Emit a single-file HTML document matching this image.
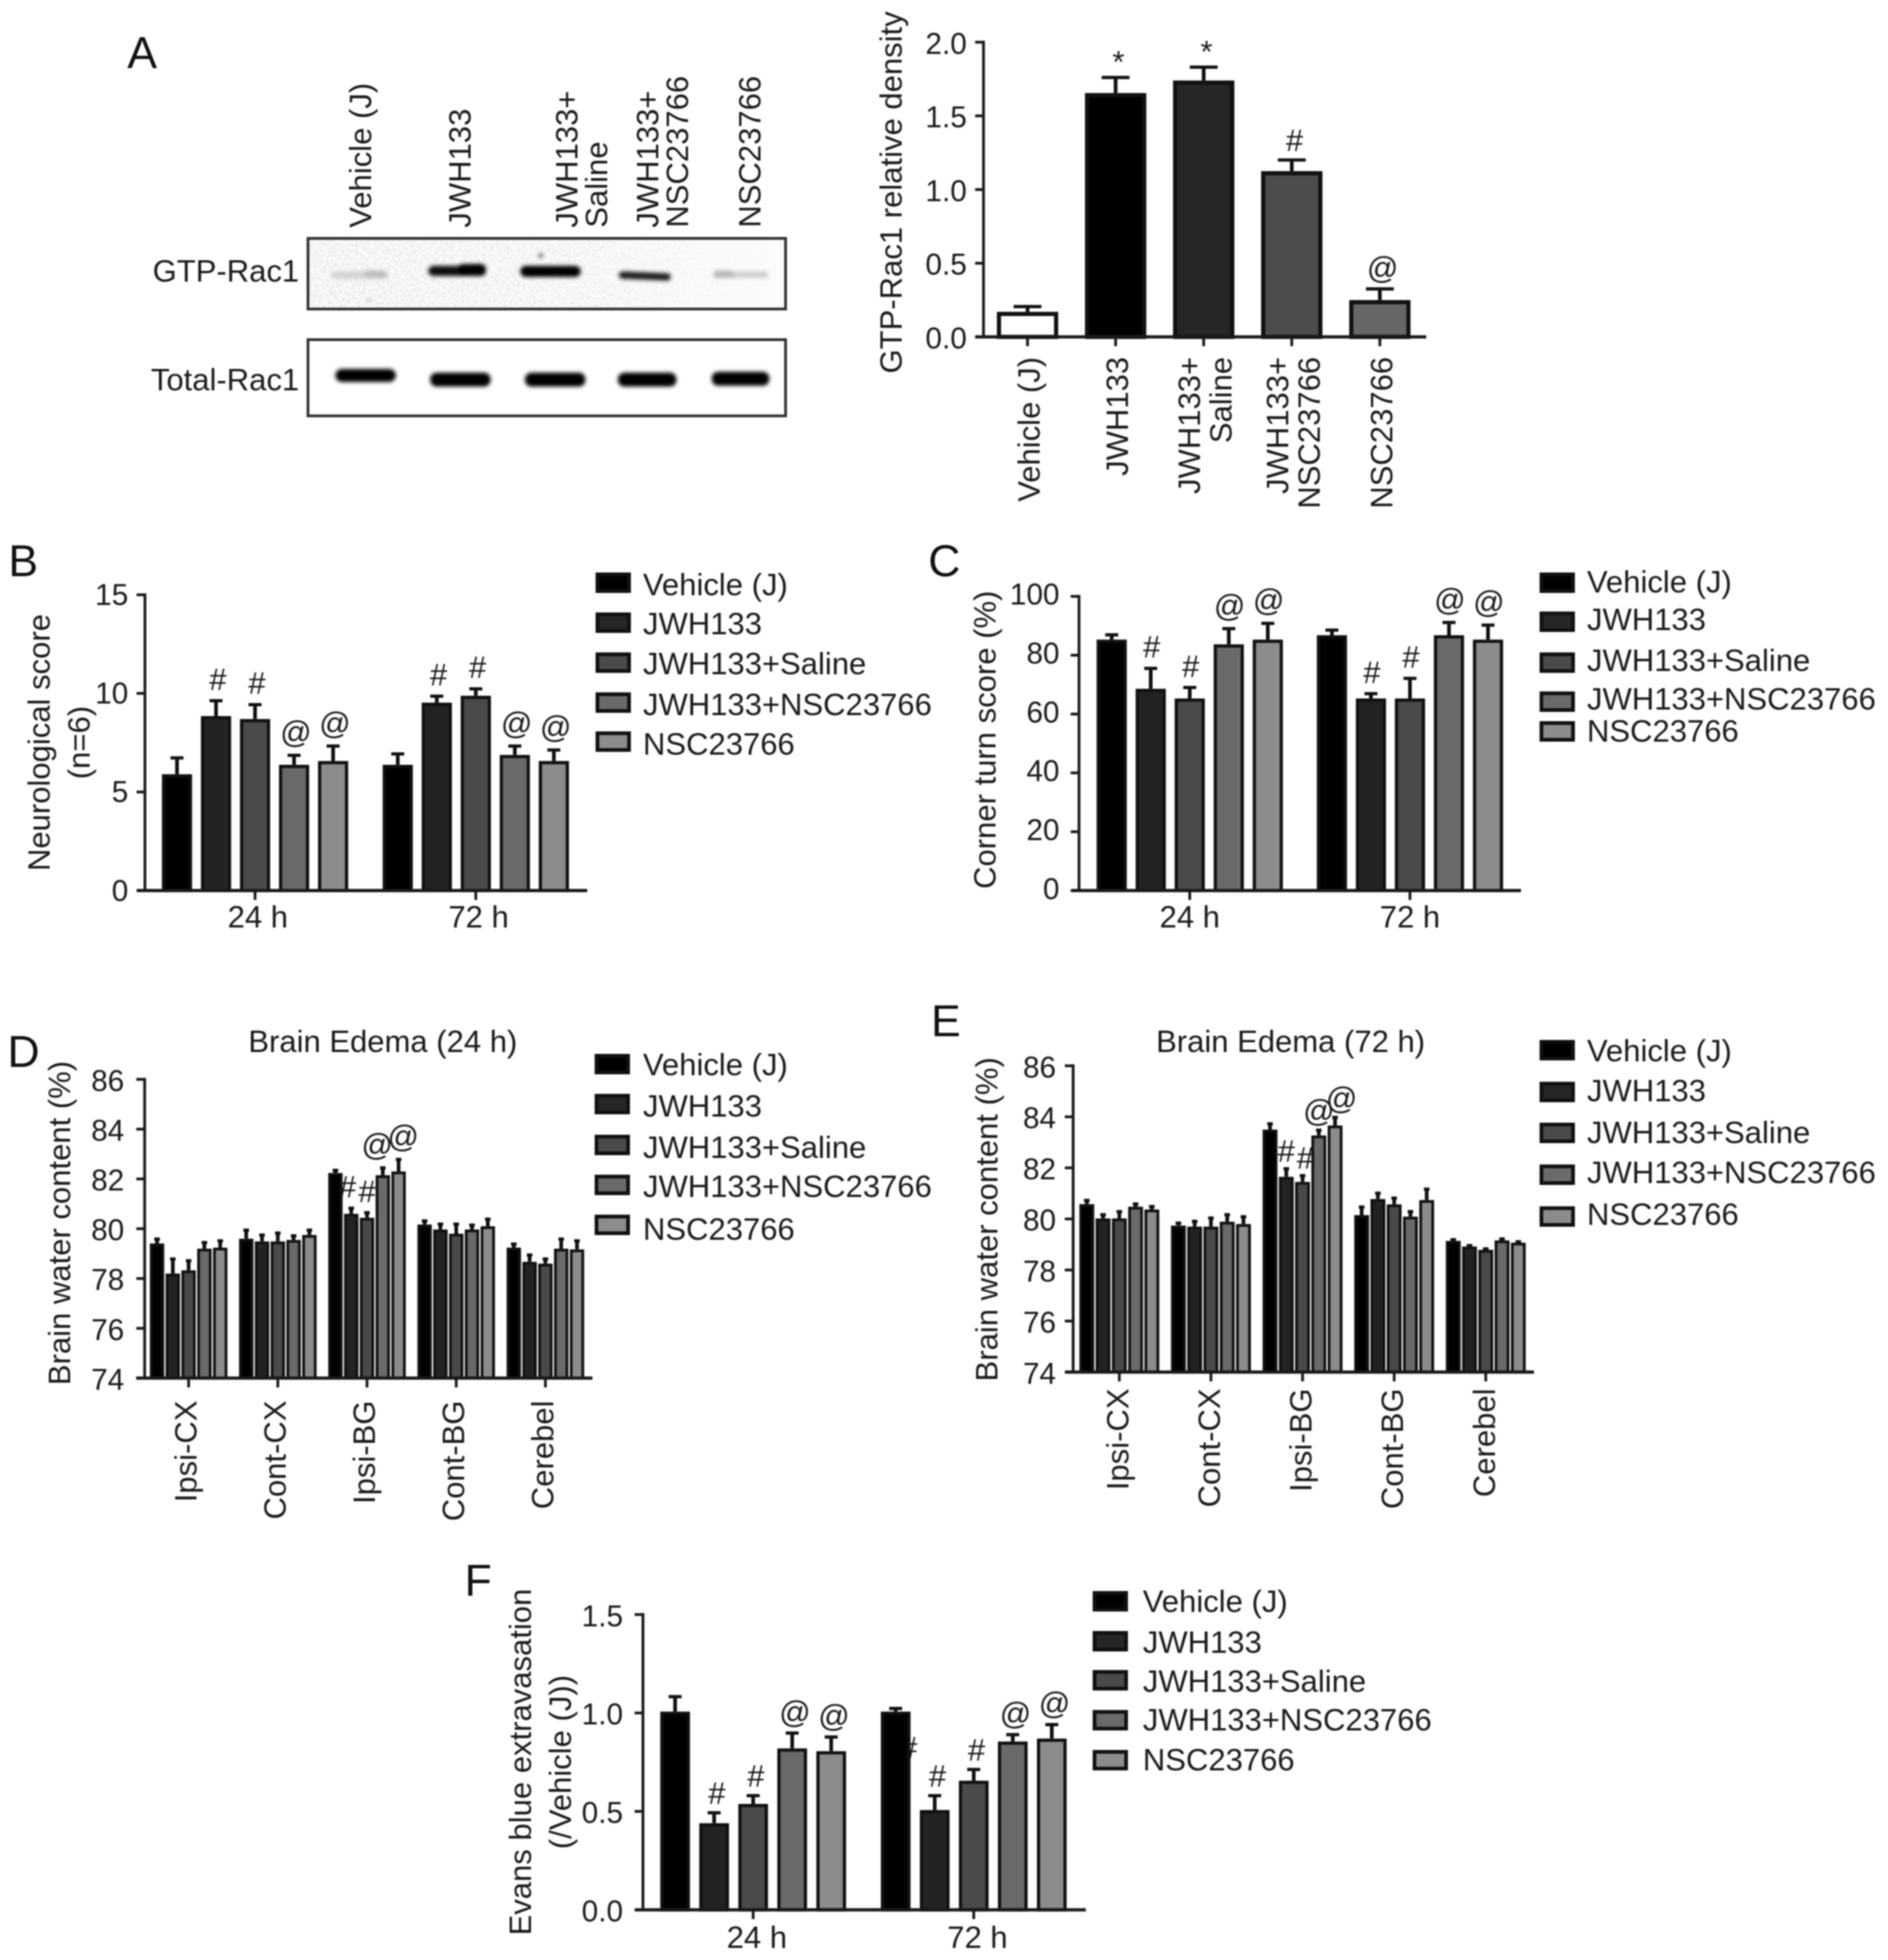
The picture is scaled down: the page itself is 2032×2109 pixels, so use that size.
<!DOCTYPE html>
<html lang="en">
<head>
<meta charset="utf-8">
<title>GTP-Rac1 and neurological outcome figure</title>
<style>
html,body{margin:0;padding:0;background:#fff}
#figure{display:block;filter:blur(.85px)}
text{font-family:"Liberation Sans",sans-serif;font-size:33.4px;fill:#1a1a1a}
.letter{font-size:48px;fill:#111}
.sw{stroke:#111;stroke-width:4}
</style>
</head>
<body>
<svg id="figure" xmlns="http://www.w3.org/2000/svg" width="2032" height="2109" viewBox="0 0 2032 2109">
<defs>
<filter id="bandBlur" x="-20%" y="-80%" width="140%" height="260%"><feGaussianBlur stdDeviation="2.1"/></filter>
<filter id="blotNoise" x="0" y="0" width="100%" height="100%"><feTurbulence type="fractalNoise" baseFrequency="0.35" numOctaves="2" seed="7"/><feColorMatrix type="matrix" values="0 0 0 0 0.5  0 0 0 0 0.5  0 0 0 0 0.5  0.9 0 0 0 -0.36"/></filter>
<linearGradient id="noiseFade" x1="0" y1="0" x2="1" y2="0"><stop offset="0" stop-color="#fff"/><stop offset="0.55" stop-color="#bbb"/><stop offset="1" stop-color="#000"/></linearGradient>
<mask id="noiseMask" maskUnits="userSpaceOnUse" x="333" y="258" width="511" height="73"><rect x="333" y="258" width="511" height="73" fill="url(#noiseFade)"/></mask>
</defs>
<rect width="2032" height="2109" fill="#fff"/>

<text class="letter" x="137" y="73">A</text>
<text class="letter" x="9" y="620">B</text>
<text class="letter" x="999" y="620">C</text>
<text class="letter" x="8" y="1148">D</text>
<text class="letter" x="1002" y="1115">E</text>
<text class="letter" x="500" y="1717">F</text>

<g>
<g transform="translate(388,245) rotate(-90)"><text dy=".35em">Vehicle (J)</text></g>
<g transform="translate(495,245) rotate(-90)"><text dy=".35em">JWH133</text></g>
<g transform="translate(610,245) rotate(-90)"><text dy=".35em">JWH133+</text></g>
<g transform="translate(642,245) rotate(-90)"><text dy=".35em">Saline</text></g>
<g transform="translate(697,245) rotate(-90)"><text dy=".35em">JWH133+</text></g>
<g transform="translate(729,245) rotate(-90)"><text dy=".35em">NSC23766</text></g>
<g transform="translate(807,245) rotate(-90)"><text dy=".35em">NSC23766</text></g>
<text x="322" y="303" text-anchor="end">GTP-Rac1</text>
<text x="322" y="420" text-anchor="end">Total-Rac1</text>
<rect x="331.5" y="256.5" width="514" height="76" fill="#fbfbfb" stroke="#333" stroke-width="3"/>
<g mask="url(#noiseMask)"><rect x="333" y="258" width="511" height="73" filter="url(#blotNoise)"/></g>
<rect x="331.5" y="365.5" width="514" height="82" fill="#fff" stroke="#333" stroke-width="3"/>
<g filter="url(#bandBlur)">
<rect x="356" y="292" width="62" height="8" rx="4" fill="#d2d2d2"/>
<rect x="392" y="291" width="24" height="8" rx="4" fill="#bebebe"/>
<rect x="461" y="286" width="62" height="11" rx="5.5" fill="#0a0a0a"/>
<rect x="493" y="284" width="30" height="11" rx="5.5" fill="#000"/>
<rect x="560" y="286" width="65" height="12" rx="6" fill="#000"/>
<rect x="666" y="293" width="56" height="8" rx="4" fill="#1f1f1f" transform="rotate(2.4 694 297)"/>
<rect x="767" y="292" width="60" height="7" rx="3.5" fill="#cdcdcd"/>
<rect x="768" y="291" width="22" height="8" rx="4" fill="#b8b8b8"/>
<circle cx="582" cy="275" r="2.4" fill="#555"/>
<circle cx="398" cy="323" r="3" fill="#d4d4d4"/>
</g>
<g filter="url(#bandBlur)">
<rect x="361" y="397" width="65" height="14" rx="7" fill="#000"/>
<rect x="463" y="401" width="65" height="15" rx="7" fill="#000"/>
<rect x="565" y="401" width="65" height="15" rx="7" fill="#000"/>
<rect x="665" y="401" width="63" height="15" rx="7" fill="#000"/>
<rect x="766" y="400" width="62" height="15" rx="7" fill="#000"/>
</g>
</g>

<g transform="translate(959,207) rotate(-90)"><text text-anchor="middle" dy=".35em">GTP-Rac1 relative density</text></g>
<g transform="translate(42,799) rotate(-90)"><text text-anchor="middle" dy=".35em">Neurological score</text></g>
<g transform="translate(85,799) rotate(-90)"><text text-anchor="middle" dy=".35em">(n=6)</text></g>
<g transform="translate(1060,796) rotate(-90)"><text text-anchor="middle" dy=".35em">Corner turn score (%)</text></g>
<g transform="translate(64,1316) rotate(-90)"><text text-anchor="middle" dy=".35em">Brain water content (%)</text></g>
<g transform="translate(1062,1312) rotate(-90)"><text text-anchor="middle" dy=".35em">Brain water content (%)</text></g>
<g transform="translate(560,1896) rotate(-90)"><text text-anchor="middle" dy=".35em">Evans blue extravasation</text></g>
<g transform="translate(603,1896) rotate(-90)"><text text-anchor="middle" dy=".35em">(/Vehicle (J))</text></g>
<text x="412" y="1132" text-anchor="middle">Brain Edema (24 h)</text>
<text x="1389" y="1132" text-anchor="middle">Brain Edema (72 h)</text>

<g>
<rect class="sw" x="643" y="618" width="34" height="18" fill="#000"/><text x="692" y="640.5">Vehicle (J)</text>
<rect class="sw" x="643" y="661" width="34" height="18" fill="#262626"/><text x="692" y="682.5">JWH133</text>
<rect class="sw" x="643" y="704" width="34" height="18" fill="#4a4a4a"/><text x="692" y="725.5">JWH133+Saline</text>
<rect class="sw" x="643" y="747" width="34" height="18" fill="#6a6a6a"/><text x="692" y="769.5">JWH133+NSC23766</text>
<rect class="sw" x="643" y="789" width="34" height="18" fill="#8c8c8c"/><text x="692" y="812">NSC23766</text>
</g>
<g>
<rect class="sw" x="1659" y="618" width="34" height="18" fill="#000"/><text x="1708" y="637.5">Vehicle (J)</text>
<rect class="sw" x="1659" y="660" width="34" height="18" fill="#262626"/><text x="1708" y="678">JWH133</text>
<rect class="sw" x="1659" y="704" width="34" height="18" fill="#4a4a4a"/><text x="1708" y="722">JWH133+Saline</text>
<rect class="sw" x="1659" y="746" width="34" height="18" fill="#6a6a6a"/><text x="1708" y="763.5">JWH133+NSC23766</text>
<rect class="sw" x="1659" y="778" width="34" height="18" fill="#8c8c8c"/><text x="1708" y="798">NSC23766</text>
</g>
<g>
<rect class="sw" x="642" y="1136" width="34" height="18" fill="#000"/><text x="692" y="1157">Vehicle (J)</text>
<rect class="sw" x="642" y="1179" width="34" height="18" fill="#262626"/><text x="692" y="1201.7">JWH133</text>
<rect class="sw" x="642" y="1223" width="34" height="18" fill="#4a4a4a"/><text x="692" y="1246">JWH133+Saline</text>
<rect class="sw" x="642" y="1266" width="34" height="18" fill="#6a6a6a"/><text x="692" y="1288">JWH133+NSC23766</text>
<rect class="sw" x="642" y="1309" width="34" height="18" fill="#8c8c8c"/><text x="692" y="1334">NSC23766</text>
</g>
<g>
<rect class="sw" x="1659" y="1121" width="34" height="18" fill="#000"/><text x="1708" y="1142">Vehicle (J)</text>
<rect class="sw" x="1659" y="1166" width="34" height="18" fill="#262626"/><text x="1708" y="1185">JWH133</text>
<rect class="sw" x="1659" y="1210" width="34" height="18" fill="#4a4a4a"/><text x="1708" y="1230">JWH133+Saline</text>
<rect class="sw" x="1659" y="1255" width="34" height="18" fill="#6a6a6a"/><text x="1708" y="1273">JWH133+NSC23766</text>
<rect class="sw" x="1659" y="1300" width="34" height="18" fill="#8c8c8c"/><text x="1708" y="1318">NSC23766</text>
</g>
<g>
<rect class="sw" x="1178" y="1714" width="34" height="18" fill="#000"/><text x="1230" y="1734.5">Vehicle (J)</text>
<rect class="sw" x="1178" y="1757" width="34" height="18" fill="#262626"/><text x="1230" y="1778.5">JWH133</text>
<rect class="sw" x="1178" y="1799" width="34" height="18" fill="#4a4a4a"/><text x="1230" y="1820.5">JWH133+Saline</text>
<rect class="sw" x="1178" y="1842" width="34" height="18" fill="#6a6a6a"/><text x="1230" y="1862">JWH133+NSC23766</text>
<rect class="sw" x="1178" y="1885" width="34" height="18" fill="#8c8c8c"/><text x="1230" y="1905">NSC23766</text>
</g>

<text x="978" y="1892" text-anchor="middle">#</text>
<g id="charts"></g>
</svg>
<script>
// Panel A
const panelACategories = ['Vehicle (J)', 'JWH133', ['JWH133+', 'Saline'], ['JWH133+', 'NSC23766'], 'NSC23766'];
const panelAValues = [[0.17, 1.655, 1.74, 1.125, 0.25]];
const panelAErrors = [[0.045, 0.115, 0.10, 0.085, 0.085]];
const panelAMarks = [['', '*', '*', '#', '@']];
const panelATicks = [0, 0.5, 1, 1.5, 2];
const panelATickLabels = ['0.0', '0.5', '1.0', '1.5', '2.0'];
const panelAFills = ['#ffffff', '#000000', '#262626', '#4c4c4c', '#676767'];

// Shared series fills for panels B to F
const seriesFills = ['#000000', '#232323', '#4a4a4a', '#6a6a6a', '#8c8c8c'];

// Panel B
const panelBCategories = ['24 h', '72 h'];
const panelBValues = [[5.9, 8.85, 8.7, 6.38, 6.57], [6.38, 9.53, 9.88, 6.88, 6.57]];
const panelBErrors = [[0.9, 0.85, 0.8, 0.55, 0.83], [0.62, 0.4, 0.42, 0.52, 0.63]];
const panelBMarks = [['', '#', '#', '@', '@'], ['', '#', '#', '@', '@']];
const panelBTicks = [0, 5, 10, 15];
const panelBTickLabels = ['0', '5', '10', '15'];

// Panel C
const panelCCategories = ['24 h', '72 h'];
const panelCValues = [[85.3, 68.6, 65.3, 83.7, 85.3], [86.8, 65.3, 65.3, 86.8, 85.3]];
const panelCErrors = [[2.1, 7.4, 4.2, 5.8, 6.0], [2.2, 2.1, 7.3, 4.8, 5.4]];
const panelCMarks = [['', '#', '#', '@', '@'], ['', '#', '#', '@', '@']];
const panelCTicks = [0, 20, 40, 60, 80, 100];
const panelCTickLabels = ['0', '20', '40', '60', '80', '100'];

// Panel D
const panelDCategories = ['Ipsi-CX', 'Cont-CX', 'Ipsi-BG', 'Cont-BG', 'Cerebel'];
const panelDValues = [
  [79.41, 78.2, 78.33, 79.2, 79.24],
  [79.6, 79.49, 79.49, 79.55, 79.75],
  [82.24, 80.6, 80.44, 82.15, 82.3],
  [80.17, 79.97, 79.8, 79.97, 80.1],
  [79.24, 78.67, 78.6, 79.2, 79.17]
];
const panelDErrors = [
  [0.23, 0.64, 0.44, 0.3, 0.33],
  [0.4, 0.31, 0.39, 0.22, 0.25],
  [0.16, 0.28, 0.26, 0.35, 0.54],
  [0.2, 0.27, 0.44, 0.23, 0.34],
  [0.2, 0.33, 0.24, 0.44, 0.4]
];
const panelDMarks = [['', '', '', '', ''], ['', '', '', '', ''], ['', '#', '#', '@', '@'], ['', '', '', '', ''], ['', '', '', '', '']];
const panelDTicks = [74, 76, 78, 80, 82, 84, 86];
const panelDTickLabels = ['74', '76', '78', '80', '82', '84', '86'];

// Panel E
const panelECategories = ['Ipsi-CX', 'Cont-CX', 'Ipsi-BG', 'Cont-BG', 'Cerebel'];
const panelEValues = [
  [80.58, 80.02, 80.02, 80.48, 80.37],
  [79.74, 79.7, 79.7, 79.89, 79.8],
  [83.5, 81.65, 81.45, 83.27, 83.66],
  [80.15, 80.78, 80.57, 80.09, 80.74],
  [79.14, 78.92, 78.79, 79.16, 79.07]
];
const panelEErrors = [
  [0.2, 0.2, 0.32, 0.16, 0.17],
  [0.15, 0.26, 0.39, 0.33, 0.34],
  [0.28, 0.37, 0.3, 0.26, 0.37],
  [0.37, 0.28, 0.3, 0.25, 0.48],
  [0.1, 0.09, 0.09, 0.11, 0.09]
];
const panelEMarks = [['', '', '', '', ''], ['', '', '', '', ''], ['', '#', '#', '@', '@'], ['', '', '', '', ''], ['', '', '', '', '']];
const panelETicks = [74, 76, 78, 80, 82, 84, 86];
const panelETickLabels = ['74', '76', '78', '80', '82', '84', '86'];

// Panel F
const panelFCategories = ['24 h', '72 h'];
const panelFValues = [[1.007, 0.44, 0.538, 0.82, 0.806], [1.007, 0.507, 0.656, 0.855, 0.87]];
const panelFErrors = [[0.083, 0.06, 0.049, 0.085, 0.079], [0.023, 0.08, 0.064, 0.042, 0.078]];
const panelFMarks = [['', '#', '#', '@', '@'], ['', '#', '#', '@', '@']];
const panelFTicks = [0, 0.5, 1, 1.5];
const panelFTickLabels = ['0.0', '0.5', '1.0', '1.5'];

const NS = 'http://www.w3.org/2000/svg';
const chartsRoot = document.getElementById('charts');

function shape(parent, tag, attrs) {
  const el = document.createElementNS(NS, tag);
  Object.keys(attrs).forEach(function (k) { el.setAttribute(k, attrs[k]); });
  parent.appendChild(el);
  return el;
}

function drawPanel(p) {
  const panel = shape(chartsRoot, 'g', {});
  
  

  const yScale = function (v) {
    return p.yBottom - (v - p.vMin) / (p.vMax - p.vMin) * (p.yBottom - p.yTop);
  };
  const groupX = function (g) { return p.firstGroup + g * p.groupStep; };
  const barX = function (g, i) { return groupX(g) + (i - 2) * p.barStep; };

  // error bars and bars
  p.values.forEach(function (group, g) {
    group.forEach(function (value, i) {
      const cx = barX(g, i);
      const top = yScale(value + p.errors[g][i]);

      const stem = shape(panel, 'line', { x1: cx, x2: cx, y1: top, y2: yScale(value), stroke: '#111', 'stroke-width': p.stemWidth });
      
      

      const cap = shape(panel, 'line', { x1: cx - p.capHalf, x2: cx + p.capHalf, y1: top + 1.5, y2: top + 1.5, stroke: '#111', 'stroke-width': 3.5 });
      
      

      const bar = shape(panel, 'rect', {
        x: cx - p.barWidth / 2 + p.stroke / 2,
        y: yScale(value) + p.stroke / 2,
        width: p.barWidth - p.stroke,
        height: Math.max(0, p.yBottom - yScale(value) - p.stroke / 2),
        fill: p.fills[i], stroke: '#111', 'stroke-width': p.stroke
      });
      
      

      const symbol = p.marks[g][i];
      if (symbol) {
        const lift = symbol === '*' ? 16 : (symbol === '@' ? 10 : 12);
        const shift = p.markShift ? p.markShift[i] : 0;
        const mark = shape(panel, 'text', { x: cx + shift + (p.markDx || 0), y: top - p.markGap + lift, 'text-anchor': 'middle' });
        mark.textContent = symbol;
        
        
      }
    });
  });

  // axes
  const yAxis = shape(panel, 'line', { x1: p.axisX, x2: p.axisX, y1: p.yTop - 1.5, y2: p.yBottom, stroke: '#1a1a1a', 'stroke-width': 3 });
  
  

  const xAxis = shape(panel, 'line', { x1: p.xStart, x2: p.xEnd, y1: p.yBottom, y2: p.yBottom, stroke: '#1a1a1a', 'stroke-width': 3.5 });
  
  

  p.ticks.forEach(function (t, idx) {
    const y = yScale(t);
    const tick = shape(panel, 'line', { x1: p.axisX - 9, x2: p.axisX, y1: y, y2: y, stroke: '#1a1a1a', 'stroke-width': 3 });
    
    

    const label = shape(panel, 'text', { x: p.axisX - p.tickGap, y: y + p.tickDy, 'text-anchor': 'end', style: 'font-size:32px' });
    label.textContent = p.tickLabels[idx];
    
    
  });

  // category ticks and labels
  p.categories.forEach(function (cat, c) {
    const tx = p.perBarTicks ? barX(0, c) : groupX(c);
    const tick = shape(panel, 'line', { x1: tx, x2: tx, y1: p.yBottom, y2: p.yBottom + 10, stroke: '#1a1a1a', 'stroke-width': 3 });
    
    

    if (p.rotateLabels) {
      const lines = Array.isArray(cat) ? cat : [cat];
      lines.forEach(function (line, k) {
        const lx = tx + p.labelDx + (lines.length > 1 ? (k - 0.5) * 34 : 0);
        const label = shape(panel, 'text', {
          transform: 'translate(' + lx + ',' + p.labelY + ') rotate(-90)',
          'text-anchor': 'end', dy: '.35em'
        });
        label.textContent = line;
        
        
      });
    } else {
      const label = shape(panel, 'text', { x: tx + p.labelDx, y: p.labelY, 'text-anchor': 'middle' });
      label.textContent = cat;
      
      
    }
  });
}

drawPanel({
  categories: panelACategories, values: panelAValues, errors: panelAErrors, marks: panelAMarks,
  ticks: panelATicks, tickLabels: panelATickLabels, fills: panelAFills,
  axisX: 1058.5, xStart: 1049.5, xEnd: 1535, yTop: 45.4, yBottom: 362.5, vMin: 0, vMax: 2,
  firstGroup: 1295.5, groupStep: 0, barStep: 94.8, barWidth: 66, stroke: 4.5, stemWidth: 4, capHalf: 15,
  markGap: 20, markDx: 3, tickGap: 18, tickDy: 12.5, perBarTicks: true, rotateLabels: true, labelDx: 1.5, labelY: 384
});
drawPanel({
  categories: panelBCategories, values: panelBValues, errors: panelBErrors, marks: panelBMarks,
  ticks: panelBTicks, tickLabels: panelBTickLabels, fills: seriesFills,
  axisX: 156, xStart: 148, xEnd: 632, yTop: 640, yBottom: 958.3, vMin: 0, vMax: 15,
  firstGroup: 274.5, groupStep: 237.6, barStep: 42, barWidth: 32.5, stroke: 3.5, stemWidth: 4, capHalf: 7,
  markGap: 22, markDx: 2, tickGap: 18, tickDy: 11, labelDx: 3, labelY: 998
});
drawPanel({
  categories: panelCCategories, values: panelCValues, errors: panelCErrors, marks: panelCMarks,
  ticks: panelCTicks, tickLabels: panelCTickLabels, fills: seriesFills,
  axisX: 1161.3, xStart: 1153.4, xEnd: 1637, yTop: 641.7, yBottom: 958.3, vMin: 0, vMax: 100,
  firstGroup: 1280.5, groupStep: 237, barStep: 42, barWidth: 32.5, stroke: 3.5, stemWidth: 4, capHalf: 7,
  markGap: 22, markDx: 1, tickGap: 21, tickDy: 9, labelDx: 0, labelY: 998
});
drawPanel({
  categories: panelDCategories, values: panelDValues, errors: panelDErrors, marks: panelDMarks,
  ticks: panelDTicks, tickLabels: panelDTickLabels, fills: seriesFills,
  axisX: 155.7, xStart: 146.5, xEnd: 637.6, yTop: 1161.4, yBottom: 1482.9, vMin: 74, vMax: 86,
  firstGroup: 203, groupStep: 96, barStep: 17, barWidth: 15.5, stroke: 3, stemWidth: 4, capHalf: 3,
  markGap: 22, markShift: [0, -4, 0, -6, 5], tickGap: 22, tickDy: 12.5, rotateLabels: true, labelDx: -3, labelY: 1507
});
drawPanel({
  categories: panelECategories, values: panelEValues, errors: panelEErrors, marks: panelEMarks,
  ticks: panelETicks, tickLabels: panelETickLabels, fills: seriesFills,
  axisX: 1155, xStart: 1146.6, xEnd: 1651, yTop: 1146.8, yBottom: 1476.4, vMin: 74, vMax: 86,
  firstGroup: 1204.7, groupStep: 98.6, barStep: 17.5, barWidth: 16, stroke: 3, stemWidth: 4, capHalf: 3,
  markGap: 18, markShift: [0, 0, 3, 0, 7], tickGap: 18.4, tickDy: 12.5, rotateLabels: true, labelDx: -2, labelY: 1494
});
drawPanel({
  categories: panelFCategories, values: panelFValues, errors: panelFErrors, marks: panelFMarks,
  ticks: panelFTicks, tickLabels: panelFTickLabels, fills: seriesFills,
  axisX: 692, xStart: 683.4, xEnd: 1168.7, yTop: 1737.3, yBottom: 2055, vMin: 0, vMax: 1.5,
  firstGroup: 810.6, groupStep: 237.4, barStep: 42, barWidth: 32, stroke: 3.5, stemWidth: 4, capHalf: 7,
  markGap: 20, markDx: 3, tickGap: 21.5, tickDy: 12.5, labelDx: 4, labelY: 2096
});
</script>
</body>
</html>
